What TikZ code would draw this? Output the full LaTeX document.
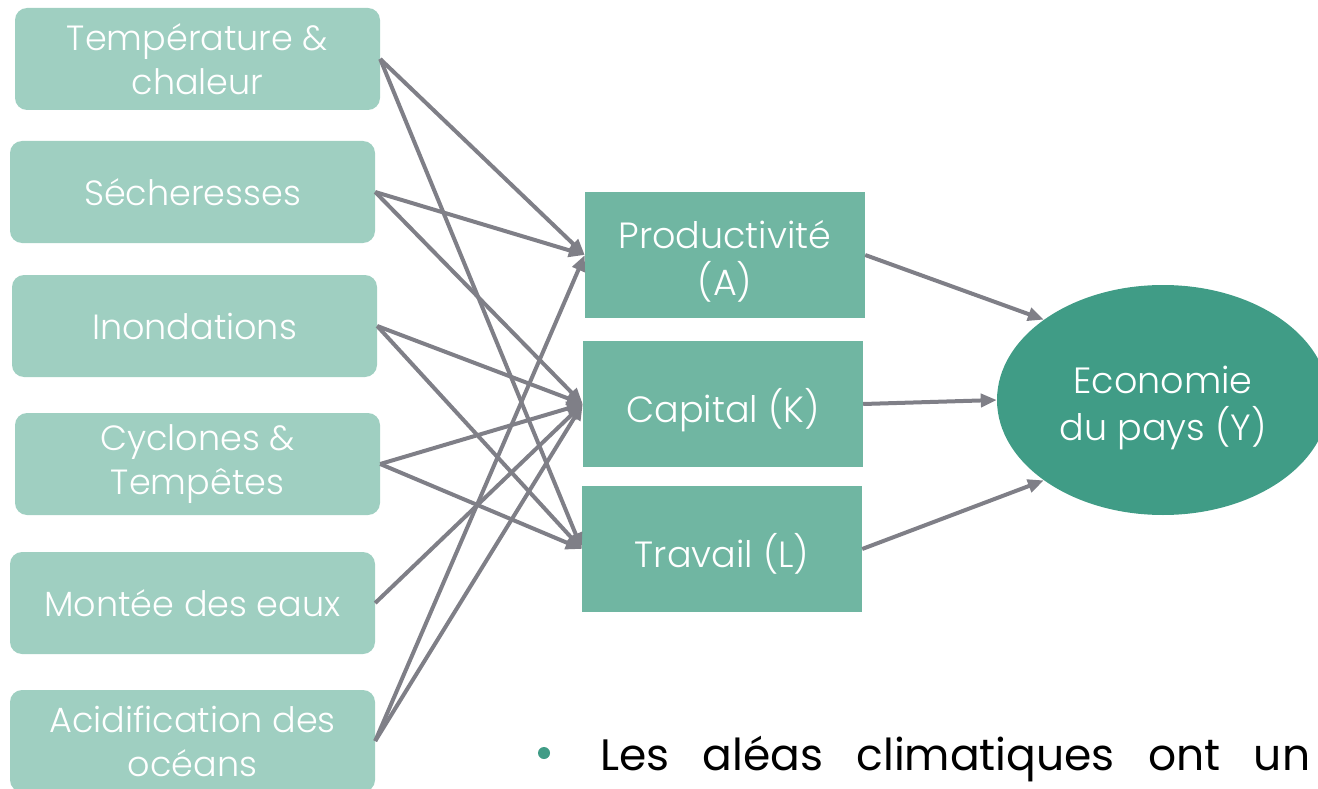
\documentclass[tikz,border=0pt]{standalone}
\usepackage{fontspec}
\IfFontExistsTF{Poppins Light}{\setmainfont{Poppins Light}}{\setmainfont{Poppins}}
\newfontfamily\bodyfont{Poppins}
\usetikzlibrary{arrows.meta,shapes.geometric}
\definecolor{hazardfill}{HTML}{9FCFC1}
\definecolor{factorfill}{HTML}{70B6A2}
\definecolor{econfill}{HTML}{409C86}
\definecolor{linkgray}{HTML}{7F7F87}
\newcommand\lowtext[1]{\raisebox{-8pt}[\height][\depth]{\begin{tabular}{@{}c@{}}#1\end{tabular}}}
\begin{document}
\begin{tikzpicture}[x=1pt,y=-1pt,
  hazard/.style={fill=hazardfill, rounded corners=12pt, minimum width=365pt, minimum height=102pt,
    text=white, align=center, inner sep=0pt, font=\fontsize{35}{44}\selectfont},
  factor/.style={fill=factorfill, minimum width=280pt, minimum height=126pt,
    text=white, inner sep=0pt, font=\fontsize{36.5}{44}\selectfont},
  econ/.style={ellipse, fill=econfill, minimum width=332pt, minimum height=230pt,
    text=white, inner sep=0pt, font=\fontsize{36.5}{44}\selectfont},
  link/.style={draw=linkgray, line width=4pt, -{Triangle[length=16pt,width=13pt]}},
  bulletdot/.style={circle, fill=econfill, minimum size=12pt, inner sep=0pt}]
\useasboundingbox (0,0) rectangle (1318,789);
\clip (0,0) rectangle (1318,789);
% hazards
\node[hazard] (t) at (197.5,59) {Température \&\\chaleur};
\node[hazard] (s) at (192.5,192) {Sécheresses};
\node[hazard] (i) at (194.5,326) {Inondations};
\node[hazard] (c) at (197.5,464) {Cyclones \&\\Tempêtes};
\node[hazard] (m) at (192.5,603) {Montée des eaux};
\node[hazard] (ac) at (192.5,741) {Acidification des\\océans};
% factors
\node[factor] (a) at (725,255) {\lowtext{Productivité\\(A)}};
\node[factor] (k) at (723,404) {\lowtext{Capital (K)}};
\node[factor] (l) at (722,549) {\lowtext{Travail (L)}};
% economy
\node[econ] (y) at (1163,400) {\lowtext{Economie\\du pays (Y)}};
% links hazards -> factors
\draw[link] (t.east) -- (a.west);
\draw[link] (t.east) -- (l.west);
\draw[link] (s.east) -- (a.west);
\draw[link] (s.east) -- (k.west);
\draw[link] (i.east) -- (k.west);
\draw[link] (i.east) -- (l.west);
\draw[link] (c.east) -- (k.west);
\draw[link] (c.east) -- (l.west);
\draw[link] (m.east) -- (k.west);
\draw[link] (ac.east) -- (a.west);
\draw[link] (ac.east) -- (k.west);
% links factors -> economy
\draw[link] (a.east) -- (y.146);
\draw[link] (k.east) -- (y.west);
\draw[link] (l.east) -- (y.214);
% bullet text
\node[bulletdot] (b) at (544,753) {};
\node[anchor=base west, inner sep=0pt] (txt) at (600,770)
  {\bodyfont\fontsize{44}{54}\selectfont\makebox[710pt][s]{Les aléas climatiques ont un}};
\end{tikzpicture}
\end{document}
